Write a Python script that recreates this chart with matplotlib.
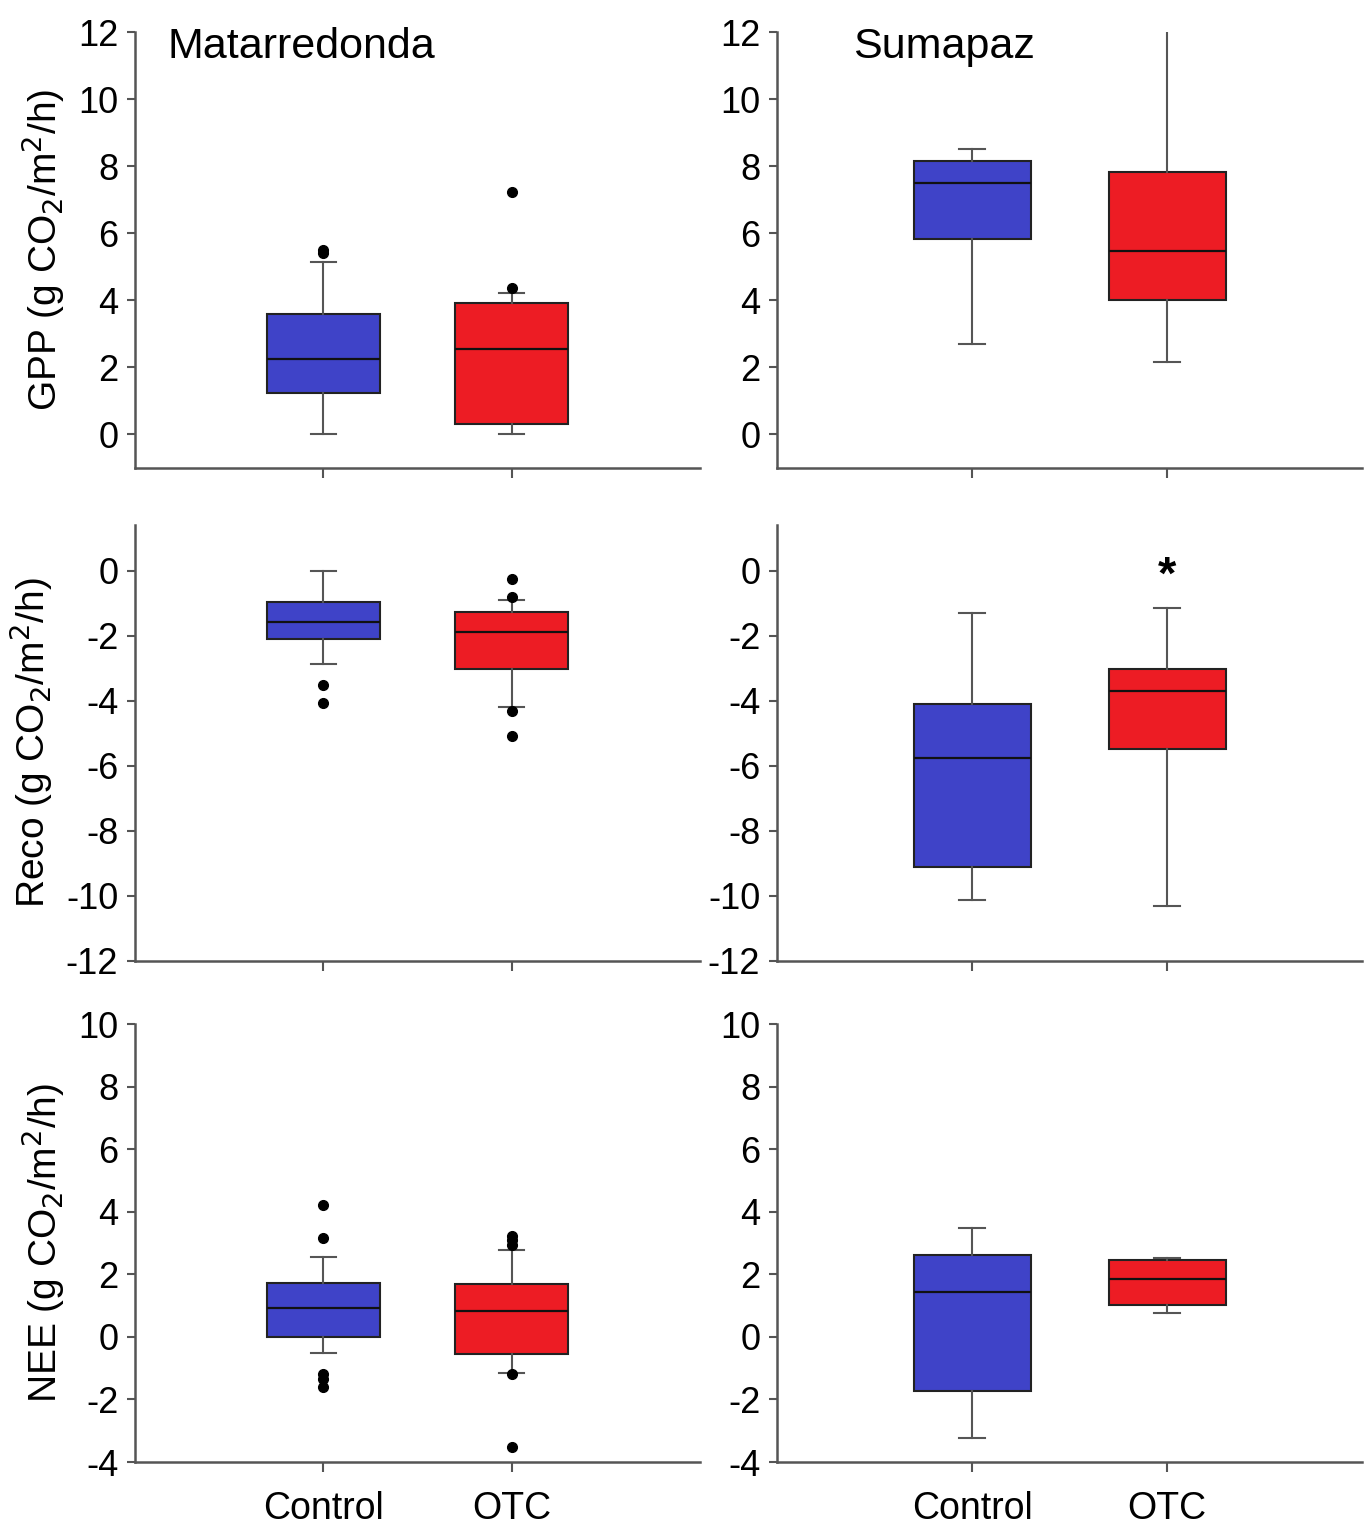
import matplotlib
matplotlib.use("Agg")
import matplotlib.pyplot as plt

plt.rcParams['font.family'] = ['Liberation Sans', 'DejaVu Sans']
plt.rcParams['axes.unicode_minus'] = False

groups = ["Control", "OTC"]
sites = ["Matarredonda", "Sumapaz"]
row_labels = ["GPP (g CO$_2$/m$^2$/h)", "Reco (g CO$_2$/m$^2$/h)", "NEE (g CO$_2$/m$^2$/h)"]

# stats per box: [whislo, q1, med, q3, whishi]
gpp_mat = [[0.0, 1.24, 2.25, 3.58, 5.14], [0.0, 0.32, 2.56, 3.92, 4.22]]
gpp_mat_fliers = [[5.40, 5.49], [4.37, 7.24]]
gpp_sum = [[2.70, 5.83, 7.51, 8.15, 8.50], [2.15, 4.01, 5.48, 7.84, 12.05]]
gpp_sum_fliers = [[], []]

reco_mat = [[-2.87, -2.10, -1.59, -0.97, 0.0], [-4.19, -3.03, -1.90, -1.28, -0.89]]
reco_mat_fliers = [[-3.53, -4.07], [-0.25, -0.81, -4.33, -5.07]]
reco_sum = [[-10.11, -9.12, -5.76, -4.09, -1.30], [-10.32, -5.48, -3.69, -3.04, -1.15]]
reco_sum_fliers = [[], []]

nee_mat = [[-0.53, -0.02, 0.91, 1.73, 2.56], [-1.15, -0.55, 0.82, 1.68, 2.78]]
nee_mat_fliers = [[4.20, 3.16, -1.18, -1.35, -1.60], [3.21, 3.11, 2.95, -1.20, -3.52]]
nee_sum = [[-3.22, -1.74, 1.43, 2.62, 3.48], [0.77, 1.01, 1.84, 2.45, 2.51]]
nee_sum_fliers = [[], []]

ylims = [(-1, 12), (-12, 1.4), (-4, 10)]
yticks = [list(range(0, 13, 2)), list(range(-12, 1, 2)), list(range(-4, 11, 2))]

panels = [
    [(gpp_mat, gpp_mat_fliers), (gpp_sum, gpp_sum_fliers)],
    [(reco_mat, reco_mat_fliers), (reco_sum, reco_sum_fliers)],
    [(nee_mat, nee_mat_fliers), (nee_sum, nee_sum_fliers)],
]

box_colors = ["#3F43C8", "#ED1C24"]
axis_color = "#555555"

fig = plt.figure(figsize=(13.68, 15.39), dpi=100)

W, H = 1368, 1539
col_x = [(135, 565), (777, 585)]
row_y = [(32, 468), (525, 961), (1024, 1462)]

for r in range(3):
    for c in range(2):
        x0, w = col_x[c]
        top, bot = row_y[r]
        ax = fig.add_axes([x0 / W, 1 - bot / H, w / W, (bot - top) / H])
        stats_list, fliers_list = panels[r][c]
        stats = []
        for i, (s, f) in enumerate(zip(stats_list, fliers_list)):
            stats.append(dict(whislo=s[0], q1=s[1], med=s[2], q3=s[3], whishi=s[4],
                              fliers=f, label=groups[i]))
        bp = ax.bxp(stats, positions=[1, 2], widths=0.6, patch_artist=True,
                    showfliers=True, capwidths=0.13,
                    medianprops=dict(color="#111111", linewidth=1.6),
                    whiskerprops=dict(color="#555555", linewidth=1.5),
                    capprops=dict(color="#555555", linewidth=1.5),
                    boxprops=dict(edgecolor="#222222", linewidth=1.5),
                    flierprops=dict(marker="o", markerfacecolor="black",
                                    markeredgecolor="black", markersize=7))
        for patch, col in zip(bp["boxes"], box_colors):
            patch.set_facecolor(col)
        ax.set_xlim(0, 3)
        ax.set_ylim(*ylims[r])
        ax.set_yticks(yticks[r])
        ax.set_xticks([1, 2])
        if r == 2:
            ax.set_xticklabels(groups, fontsize=27)
        else:
            ax.set_xticklabels([])
        for side in ["top", "right"]:
            ax.spines[side].set_visible(False)
        for side in ["left", "bottom"]:
            ax.spines[side].set_color(axis_color)
            ax.spines[side].set_linewidth(1.8)
        ax.tick_params(axis="y", labelsize=26, length=6, width=1.5, color=axis_color, pad=6)
        ax.tick_params(axis="x", length=7, width=1.5, color=axis_color, pad=14)
        ax.set_facecolor("none")
        if c == 0:
            ax.set_ylabel(row_labels[r], fontsize=28, labelpad=8)
        if r == 0:
            tx = 0.058 if c == 0 else 0.13
            ax.text(tx, 0.965, sites[c], transform=ax.transAxes, fontsize=31,
                    ha="left", va="center")
        if r == 1 and c == 1:
            ax.text(2, -0.2, "*", fontsize=34, ha="center", va="center", fontweight="bold")

fig.savefig("out.png", dpi=100)
